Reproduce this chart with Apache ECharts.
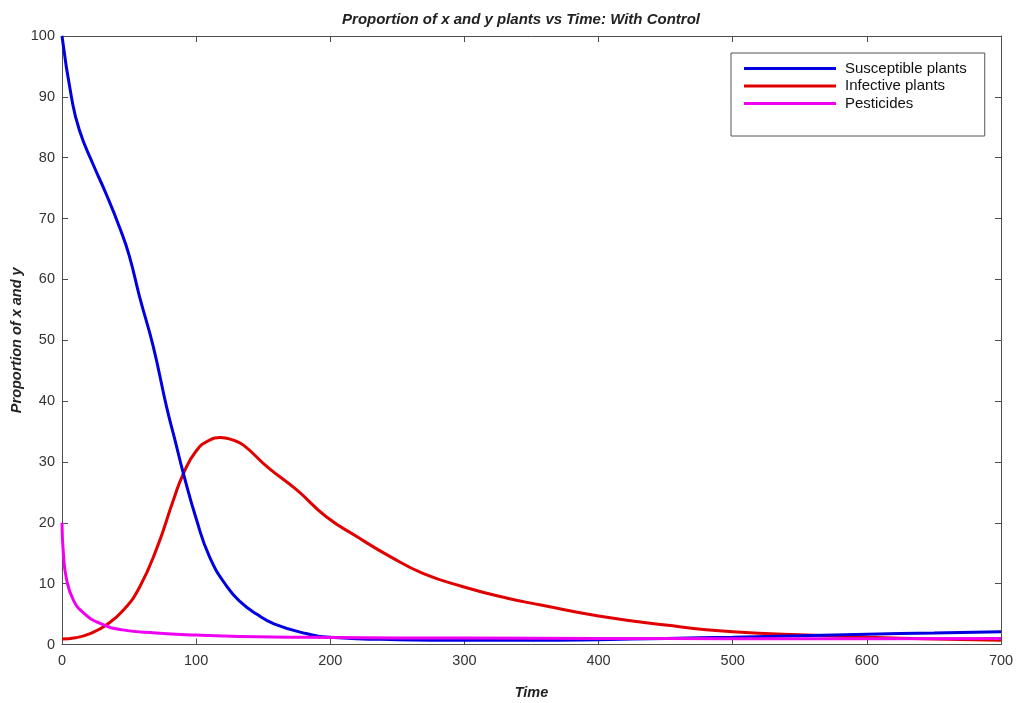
<!DOCTYPE html>
<html>
<head>
<meta charset="utf-8">
<script src="https://cdn.jsdelivr.net/npm/echarts@6/dist/echarts.min.js"></script>
<style>
  html, body { margin: 0; padding: 0; background: #fff; }
  #chart { width: 1021px; height: 703px; }
</style>
</head>
<body>
<div id="chart"></div>
<script>
// values
const susceptibleTime = [0, 7, 13, 23, 33, 43, 50, 58, 68, 78, 84, 90.5, 100, 110, 123, 133, 145, 158, 182, 200, 250, 300, 350, 400, 450, 500, 550, 600, 650, 700];
const susceptibleValues = [100, 90, 84.5, 79, 74, 68.5, 64, 57, 49, 39, 33.8, 28.1, 20.7, 14.4, 9.5, 7.0, 5.0, 3.4, 1.8, 1.2, 0.8, 0.7, 0.7, 0.8, 1.0, 1.2, 1.45, 1.7, 1.9, 2.1];

const infectiveTime = [0, 10, 21, 33, 46, 58, 71, 83, 90.5, 100, 110, 118, 126, 135, 153, 175, 197, 220, 245, 269, 299, 332, 357, 400, 450, 500, 560, 600, 650, 700];
const infectiveValues = [0.9, 1.1, 1.8, 3.2, 5.7, 9.5, 16, 23.7, 28.1, 31.8, 33.6, 34, 33.7, 32.8, 29.2, 25.4, 21, 17.7, 14.4, 11.7, 9.5, 7.6, 6.5, 4.7, 3.2, 2.1, 1.5, 1.2, 0.9, 0.7];

const pesticideTime = [0, 1, 3.5, 8.5, 16, 28, 45, 70, 100, 133, 200, 300, 400, 500, 600, 700];
const pesticideValues = [20, 15, 10.6, 7.3, 5.2, 3.5, 2.4, 1.9, 1.55, 1.3, 1.15, 1.05, 1.0, 0.95, 0.95, 1.0];

const xTicks = { min: 0, max: 700, interval: 100 };
const yTicks = { min: 0, max: 100, interval: 10 };

function pairs(xs, ys) {
  return xs.map((x, i) => [x, ys[i]]);
}

const fontFamily = 'Liberation Sans, Arial, sans-serif';
const axisColor = '#4d4d4d';
const labelStyle = { color: '#333', fontSize: 14.5, fontFamily };
const nameStyle = { fontSize: 14.5, fontWeight: 'bold', fontStyle: 'italic', color: '#222', fontFamily };

function frameAxis(extra) {
  return {
    type: 'value',
    axisLine: { show: true, onZero: false, lineStyle: { color: axisColor } },
    axisTick: { show: true, inside: true, length: 6, lineStyle: { color: axisColor } },
    splitLine: { show: false },
    ...extra
  };
}

const chart = echarts.init(document.getElementById('chart'), null, { renderer: 'canvas' });

chart.setOption({
  animation: false,
  backgroundColor: '#fff',
  title: {
    text: 'Proportion of x and y plants vs Time: With Control',
    left: 516,
    textAlign: 'center',
    top: 7,
    textStyle: { fontSize: 15, fontWeight: 'bold', fontStyle: 'italic', color: '#222', fontFamily }
  },
  grid: { left: 62, right: 20, top: 36, bottom: 58.5, containLabel: false, outerBoundsMode: 'none' },
  legend: {
    orient: 'vertical',
    left: 731,
    top: 53,
    padding: [8, 18, 25, 13],
    itemGap: 2.5,
    itemWidth: 92,
    itemHeight: 3,
    icon: 'rect',
    borderColor: '#555',
    borderWidth: 1,
    backgroundColor: '#fff',
    textStyle: { color: '#111', fontSize: 15, fontFamily, padding: [0, 0, 0, 4] },
    data: ['Susceptible plants', 'Infective plants', 'Pesticides']
  },
  xAxis: [
    frameAxis({
      ...xTicks,
      name: 'Time', nameLocation: 'middle', nameGap: 41, nameMoveOverlap: false, nameTextStyle: nameStyle,
      axisLabel: { ...labelStyle, margin: 9 }
    }),
    frameAxis({ ...xTicks, position: 'top', axisLabel: { show: false } })
  ],
  yAxis: [
    frameAxis({
      ...yTicks,
      name: 'Proportion of x and y', nameLocation: 'middle', nameGap: 38, nameMoveOverlap: false, nameTextStyle: nameStyle,
      axisLabel: { ...labelStyle, margin: 7 }
    }),
    frameAxis({ ...yTicks, position: 'right', axisLabel: { show: false } })
  ],
  series: [
    {
      name: 'Susceptible plants', type: 'line', smooth: 0.5, symbol: 'none',
      color: '#0000e0', lineStyle: { width: 3, color: '#0000e0' },
      data: pairs(susceptibleTime, susceptibleValues), z: 3
    },
    {
      name: 'Infective plants', type: 'line', smooth: 0.5, symbol: 'none',
      color: '#e00000', lineStyle: { width: 3, color: '#e00000' },
      data: pairs(infectiveTime, infectiveValues), z: 2
    },
    {
      name: 'Pesticides', type: 'line', smooth: 0.5, symbol: 'none',
      color: '#f000f0', lineStyle: { width: 3, color: '#f000f0' },
      data: pairs(pesticideTime, pesticideValues), z: 4
    }
  ]
});
</script>
</body>
</html>
